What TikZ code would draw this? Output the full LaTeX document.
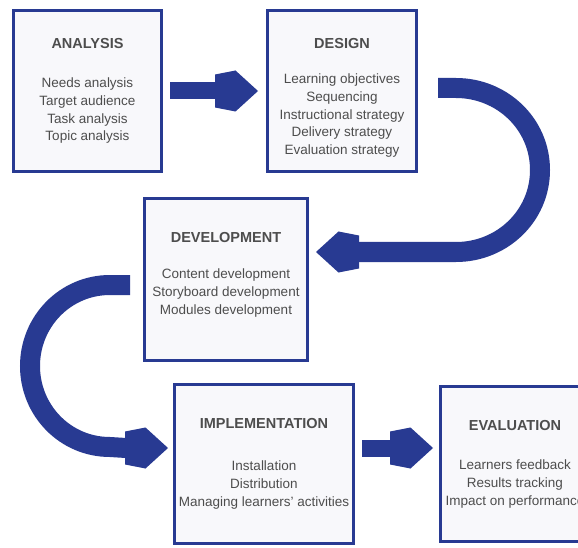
\documentclass[tikz,border=0pt]{standalone}
\usepackage{fontspec}
\setmainfont{Liberation Sans}
\usepackage{xcolor}

\definecolor{flowblue}{RGB}{40,58,146}
\definecolor{boxfill}{RGB}{248,248,251}
\definecolor{txtgray}{RGB}{77,77,77}

\tikzset{
  phase/.style={draw=flowblue, line width=3pt, fill=boxfill, inner sep=0pt},
  title/.style={anchor=north, inner sep=0pt, text=txtgray,
    font=\fontsize{14.5}{17}\selectfont\bfseries},
  items/.style={anchor=north, inner sep=0pt, text=txtgray, align=center,
    font=\fontsize{13.5}{17.6}\selectfont},
  band/.style={draw=flowblue, line width=20pt},
  shaft/.style={draw=flowblue, line width=17pt},
  head/.pic={\fill[flowblue] (0,0) -- (-22.5,20.5) -- (-43,16.5) -- (-43,-16.5) -- (-22.5,-20.5) -- cycle;}
}

\begin{document}
\begin{tikzpicture}[x=1pt,y=1pt]
	\useasboundingbox[fill=white] (0,0) rectangle (578,547);
	\clip (0,0) rectangle (578,547);

	% the five phases
	\node[phase, minimum width=148pt, minimum height=161pt,
	label={[title,yshift=-29pt]north:ANALYSIS},
	label={[items,yshift=-69pt]north:{Needs analysis\\Target audience\\Task analysis\\Topic analysis}}]
	(analysis) at (87.5,456) {};

	\node[phase, minimum width=149pt, minimum height=161pt,
	label={[title,yshift=-29pt]north:DESIGN},
	label={[items,yshift=-65pt]north:{Learning objectives\\Sequencing\\Instructional strategy\\Delivery strategy\\Evaluation strategy}}]
	(design) at (342,456) {};

	\node[phase, minimum width=163pt, minimum height=162pt,
	label={[title,yshift=-35pt]north:DEVELOPMENT},
	label={[items,yshift=-72pt]north:{Content development\\Storyboard development\\Modules development}}]
	(development) at (226,267.5) {};

	\node[phase, minimum width=179pt, minimum height=159pt,
	label={[title,yshift=-35pt]north:IMPLEMENTATION},
	label={[items,yshift=-78pt]north:{Installation\\Distribution\\Managing learners' activities}}]
	(implementation) at (264,83) {};

	\node[phase, minimum width=149pt, minimum height=155pt,
	label={[title,yshift=-35pt]north:EVALUATION},
	label={[items,yshift=-75pt]north:{Learners feedback\\Results tracking\\Impact on performance}}]
	(evaluation) at (515,83) {};

	% analysis -> design
	\coordinate (a1) at ([xshift=7pt]analysis.east);
	\coordinate (a2) at ([xshift=-8pt]design.west);
	\draw[shaft] (a1) -- ([xshift=-42pt]a2);
	\pic at (a2) {head};

	% design -> development, round the right side
	\coordinate (b1) at ([xshift=20pt,yshift=3pt]design.east);
	\coordinate (b2) at ([xshift=7pt,yshift=27.5pt]development.east);
	\draw[band] (b1) -- ++(18,0) to[out=0,in=90] ++(84,-82)
	to[out=-90,in=0] ++(-84,-82) -- ([xshift=42pt]b2);
	\pic[rotate=180] at (b2) {head};

	% development -> implementation, round the left side
	\coordinate (c1) at ([xshift=-13pt,yshift=-5.5pt]development.west);
	\coordinate (c2) at ([xshift=-5pt,yshift=16pt]implementation.west);
	\draw[band] (c1) -- ++(-20,0) to[out=180,in=90] ++(-80,-81)
	to[out=-90,in=180] ++(80,-81) -- ([xshift=-42pt]c2);
	\pic at (c2) {head};

	% implementation -> evaluation
	\coordinate (d1) at ([xshift=7pt,yshift=16pt]implementation.east);
	\coordinate (d2) at ([xshift=-6pt,yshift=16pt]evaluation.west);
	\draw[shaft] (d1) -- ([xshift=-42pt]d2);
	\pic at (d2) {head};
\end{tikzpicture}
\end{document}
